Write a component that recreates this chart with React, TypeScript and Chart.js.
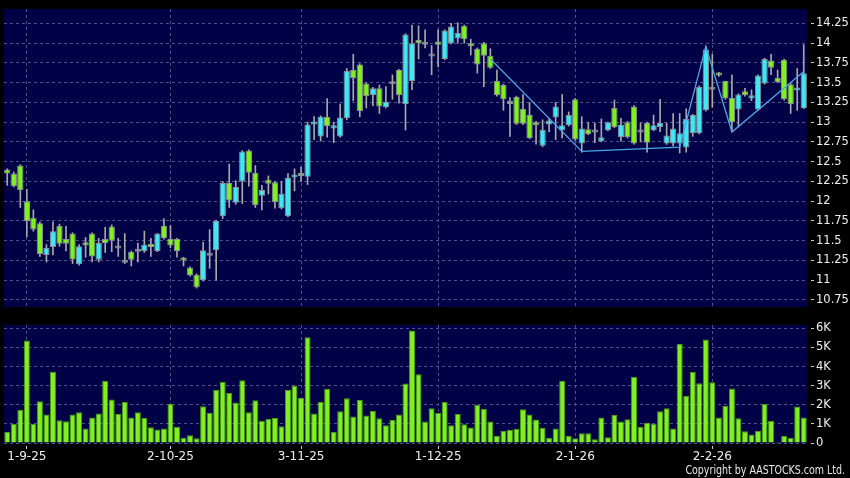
import React, { useEffect, useRef } from 'react';
import { Chart, registerables } from 'chart.js';

Chart.register(...registerables);

// ---- data ----
const opens = [
  12.40, 12.35, 12.45, 12.00, 11.79, 11.72, 11.32, 11.42, 11.69, 11.52,
  11.59, 11.20, 11.48, 11.59, 11.26, 11.52, 11.68, 11.40, 11.22, 11.36,
  11.36, 11.37, 11.45, 11.37, 11.69, 11.52, 11.52, 11.28, 11.16, 11.07,
  11.00, 11.31, 11.38, 11.81, 12.23, 11.98, 12.25, 12.64, 12.36, 12.07,
  12.27, 12.24, 11.91, 11.81, 12.30, 12.32, 12.31, 12.97, 12.82, 13.07,
  12.92, 12.82, 13.05, 13.66, 13.73, 13.49, 13.34, 13.43, 13.19, 13.48,
  13.66, 13.23, 13.52, 14.04, 13.98, 13.83, 14.02, 13.80, 14.00, 14.06,
  14.22, 14.00, 13.93, 14.00, 13.84, 13.52, 13.47, 13.23, 13.32, 13.17,
  13.09, 13.00, 12.70, 12.97, 13.06, 12.90, 12.96, 13.29, 12.73, 12.91,
  12.87, 12.76, 12.90, 13.18, 12.81, 13.00, 13.20, 12.87, 12.99, 12.90,
  12.94, 12.73, 12.73, 12.73, 12.68, 12.86, 12.86, 13.15, 13.41, 13.62,
  13.52, 13.31, 13.16, 13.39, 13.30, 13.16, 13.49, 13.78, 13.56, 13.79,
  13.48, 13.40, 13.18,
];
const highs = [
  12.41, 12.37, 12.46, 12.15, 11.89, 11.74, 11.45, 11.74, 11.71, 11.68,
  11.60, 11.45, 11.54, 11.60, 11.53, 11.67, 11.70, 11.53, 11.59, 11.37,
  11.47, 11.62, 11.53, 11.59, 11.78, 11.69, 11.53, 11.29, 11.17, 11.08,
  11.48, 11.64, 11.76, 12.25, 12.47, 12.26, 12.64, 12.65, 12.45, 12.20,
  12.32, 12.25, 12.25, 12.35, 12.41, 12.43, 13.00, 13.07, 13.08, 13.30,
  13.00, 13.23, 13.68, 13.86, 13.74, 13.50, 13.44, 13.47, 13.45, 13.60,
  13.67, 14.12, 14.23, 14.22, 14.17, 13.97, 14.17, 14.17, 14.25, 14.26,
  14.23, 14.05, 13.94, 14.01, 13.93, 13.66, 13.48, 13.31, 13.33, 13.35,
  13.25, 13.01, 13.03, 13.05, 13.25, 13.35, 13.13, 13.30, 13.07, 13.00,
  12.99, 13.04, 13.00, 13.28, 13.05, 13.01, 13.21, 12.99, 13.00, 13.09,
  13.29, 12.99, 13.11, 13.11, 13.17, 13.10, 13.46, 13.96, 13.86, 13.63,
  13.52, 13.60, 13.36, 13.43, 13.41, 13.60, 13.81, 13.86, 13.66, 13.80,
  13.49, 13.68, 13.98,
];
const lows = [
  12.20, 12.18, 11.92, 11.55, 11.62, 11.30, 11.23, 11.32, 11.43, 11.37,
  11.21, 11.19, 11.29, 11.23, 11.23, 11.35, 11.36, 11.30, 11.21, 11.18,
  11.23, 11.35, 11.30, 11.36, 11.52, 11.41, 11.29, 11.18, 11.05, 10.90,
  10.99, 11.15, 11.00, 11.78, 11.92, 11.96, 11.97, 12.19, 11.92, 11.89,
  12.09, 11.91, 11.90, 11.80, 12.13, 12.25, 12.21, 12.78, 12.76, 12.81,
  12.74, 12.81, 13.03, 13.27, 13.07, 13.18, 13.21, 13.11, 13.18, 13.29,
  13.24, 12.90, 13.41, 13.80, 13.94, 13.60, 13.70, 13.79, 13.99, 14.00,
  14.00, 13.85, 13.62, 13.45, 13.68, 13.33, 13.15, 12.82, 12.97, 12.97,
  12.79, 12.72, 12.69, 12.88, 12.78, 12.80, 12.95, 12.77, 12.62, 12.84,
  12.74, 12.75, 12.89, 12.93, 12.76, 12.80, 12.72, 12.75, 12.62, 12.89,
  12.88, 12.72, 12.70, 12.61, 12.62, 12.82, 12.85, 13.14, 13.19, 13.58,
  13.29, 12.88, 12.94, 13.33, 13.27, 13.15, 13.48, 13.60, 13.50, 13.28,
  13.11, 13.15, 13.17,
];
const closes = [
  12.35, 12.19, 12.14, 11.75, 11.64, 11.33, 11.41, 11.62, 11.46, 11.46,
  11.26, 11.43, 11.44, 11.30, 11.47, 11.47, 11.50, 11.40, 11.22, 11.26,
  11.36, 11.45, 11.42, 11.59, 11.53, 11.44, 11.37, 11.25, 11.06, 10.91,
  11.38, 11.31, 11.75, 12.23, 12.01, 12.18, 12.63, 12.36, 11.95, 12.14,
  12.22, 11.99, 12.09, 12.30, 12.31, 12.32, 12.97, 13.00, 13.07, 12.95,
  12.96, 13.06, 13.65, 13.56, 13.14, 13.33, 13.43, 13.20, 13.26, 13.48,
  13.34, 14.11, 14.00, 14.00, 13.98, 13.83, 13.98, 14.16, 14.21, 14.13,
  14.05, 13.96, 13.73, 13.84, 13.69, 13.34, 13.29, 13.23, 12.98, 12.98,
  12.80, 12.96, 12.90, 13.02, 13.20, 12.96, 13.09, 12.78, 12.92, 12.85,
  12.87, 12.81, 13.00, 12.94, 12.97, 12.81, 12.73, 12.87, 12.74, 12.96,
  12.99, 12.83, 12.92, 12.86, 13.04, 13.09, 13.45, 13.92, 13.41, 13.59,
  13.30, 13.00, 13.35, 13.34, 13.34, 13.59, 13.80, 13.69, 13.51, 13.29,
  13.23, 13.44, 13.62,
];
const volumes = [
  580, 1000, 1740, 5370, 1000, 2190, 1490, 3730, 1190, 1140,
  1490, 1610, 760, 1340, 1540, 3250, 2270, 1520, 2140, 1330,
  1610, 1310, 820, 710, 760, 2040, 850, 280, 410, 250,
  1920, 1570, 2790, 3200, 2620, 2120, 3280, 1610, 2240, 1160,
  1260, 1310, 870, 2790, 3010, 2350, 5540, 1540, 2140, 2840,
  580, 1660, 2340, 1390, 2250, 1440, 1690, 1290, 930, 1210,
  1490, 3110, 5890, 3600, 1120, 1820, 1570, 2140, 930, 1520,
  980, 810, 2000, 1790, 1120, 380, 630, 680, 750, 1770,
  1490, 1230, 800, 270, 760, 3260, 380, 250, 510, 510,
  200, 1330, 300, 1460, 1120, 1240, 3450, 840, 1060, 1010,
  1660, 1820, 760, 5200, 2470, 3710, 3130, 5420, 3180, 1330,
  1940, 2850, 1290, 610, 450, 630, 2050, 1160, 50, 360,
  280, 1910, 1330,
];
const zigzagIndex = [74, 88, 103, 107, 111, 122];
const zigzagValue = [13.80, 12.63, 12.685, 13.96, 12.875, 13.64];
const dateTickIndex = [3, 25, 45, 66, 87, 108];
const dateTickLabels = ['1-9-25', '2-10-25', '3-11-25', '1-12-25', '2-1-26', '2-2-26'];
const priceTicks = [10.75, 11, 11.25, 11.5, 11.75, 12, 12.25, 12.5, 12.75, 13, 13.25, 13.5, 13.75, 14, 14.25];
const volumeTicks = [0, 1000, 2000, 3000, 4000, 5000, 6000];
const volumeTickLabels = ['0', '1K', '2K', '3K', '4K', '5K', '6K'];

// ---- styles ----
const NAVY = '#000046';
const GRID = '#50508c';
const CYAN = '#40e6f2';
const GREEN = '#80f020';
const DOJI = '#9a9a9a';
const TEXT = '#eeeeee';
const FONT = 'DejaVu Sans';

const bgPlugin = {
  id: 'bg',
  beforeDraw(chart: any) {
    const { ctx, chartArea: a, width, height } = chart;
    ctx.save();
    ctx.fillStyle = '#000';
    ctx.fillRect(0, 0, width, height);
    ctx.fillStyle = NAVY;
    ctx.fillRect(a.left, a.top, a.right - a.left, a.bottom - a.top);
    ctx.restore();
  },
};

const vGridColor = (ctx: any) => (dateTickIndex.includes(ctx.index) ? GRID : 'rgba(0,0,0,0)');
const vTickColor = (ctx: any) => (dateTickIndex.includes(ctx.index) ? '#cccccc' : 'rgba(0,0,0,0)');

export default function App() {
  const priceRef = useRef<HTMLCanvasElement>(null);
  const volRef = useRef<HTMLCanvasElement>(null);

  useEffect(() => {
    const labels = opens.map((_, i) => String(i));
    const bodyData = opens.map((o, i) => [Math.min(o, closes[i]), Math.max(o, closes[i])]);
    const wickData = lows.map((l, i) => [l, highs[i]]);
    const bodyColors = opens.map((o, i) => (closes[i] > o ? CYAN : closes[i] < o ? GREEN : DOJI));
    const zigzag = labels.map((_, i) => {
      const k = zigzagIndex.indexOf(i);
      return k >= 0 ? zigzagValue[k] : null;
    });

    const common: any = {
      animation: false,
      responsive: false,
      events: [],
      plugins: { legend: { display: false }, tooltip: { enabled: false } },
    };

    const price = new Chart(priceRef.current as HTMLCanvasElement, {
      type: 'bar',
      data: {
        labels,
        datasets: [
          {
            type: 'line',
            data: zigzag,
            spanGaps: true,
            borderColor: '#4aa6e6',
            borderWidth: 1.3,
            pointRadius: 0,
            order: 0,
          } as any,
          {
            data: bodyData as any,
            backgroundColor: bodyColors,
            borderColor: '#8a9296',
            borderWidth: 1,
            borderSkipped: false,
            grouped: false,
            categoryPercentage: 1,
            barPercentage: 0.97,
            minBarLength: 3,
            order: 1,
          },
          {
            data: wickData as any,
            backgroundColor: '#a8a8a8',
            borderWidth: 0,
            barThickness: 1,
            grouped: false,
            order: 2,
          },
        ],
      },
      options: {
        ...common,
        layout: { padding: { left: 4, top: 5, right: 0, bottom: 3 } },
        scales: {
          x: {
            type: 'category',
            offset: true,
            grid: { color: vGridColor, drawTicks: false, offset: false },
            border: { display: false, dash: [3, 3] },
            ticks: { display: false, autoSkip: false },
            afterFit: (s: any) => { s.height = 0; },
          },
          y: {
            position: 'right',
            min: 10.659,
            max: 14.434,
            afterBuildTicks: (axis: any) => { axis.ticks = priceTicks.map((v) => ({ value: v })); },
            grid: { color: GRID, tickLength: 7, tickColor: '#cccccc', tickBorderDash: [0, 4, 3, 20] } as any,
            border: { display: false, dash: [3, 3] },
            ticks: {
              color: TEXT,
              font: { family: FONT, size: 11.5 },
              padding: 2,
              callback: (v: any) => String(v),
            },
            afterFit: (s: any) => { s.width = 43; },
          },
        },
      } as any,
      plugins: [bgPlugin],
    });

    const vol = new Chart(volRef.current as HTMLCanvasElement, {
      type: 'bar',
      data: {
        labels,
        datasets: [
          {
            data: volumes,
            backgroundColor: GREEN,
            borderColor: '#4c9a14',
            borderWidth: { left: 1, right: 1, top: 1, bottom: 0 },
            borderSkipped: 'start',
            categoryPercentage: 1,
            barPercentage: 0.92,
          },
        ],
      },
      options: {
        ...common,
        layout: { padding: { left: 4, top: 3, right: 0, bottom: 0 } },
        scales: {
          x: {
            type: 'category',
            offset: true,
            grid: { color: vGridColor, tickColor: vTickColor, tickLength: 6, tickBorderDash: [0, 3, 3, 20], offset: false } as any,
            border: { display: false, dash: [3, 3] },
            ticks: {
              autoSkip: false,
              maxRotation: 0,
              color: TEXT,
              font: { family: FONT, size: 12 },
              padding: 1,
              callback: (_v: any, i: number) => {
                const k = dateTickIndex.indexOf(i);
                return k >= 0 ? dateTickLabels[k] : '';
              },
            },
            afterFit: (s: any) => { s.height = 35; },
          },
          y: {
            position: 'right',
            min: 0,
            max: 6180,
            afterBuildTicks: (axis: any) => { axis.ticks = volumeTicks.map((v) => ({ value: v })); },
            grid: { color: GRID, tickLength: 7, tickColor: '#cccccc', tickBorderDash: [0, 4, 3, 20] } as any,
            border: { display: false, dash: [3, 3] },
            ticks: {
              color: TEXT,
              font: { family: FONT, size: 11.5 },
              padding: 2,
              callback: (v: any) => volumeTickLabels[volumeTicks.indexOf(Number(v))],
            },
            afterFit: (s: any) => { s.width = 43; },
          },
        },
      } as any,
      plugins: [bgPlugin],
    });

    return () => {
      price.destroy();
      vol.destroy();
    };
  }, []);

  return (
    <div style={{ position: 'fixed', left: 0, top: 0, width: 850, height: 478, background: '#000', overflow: 'hidden' }}>
      <canvas ref={priceRef} width={850} height={316} style={{ position: 'absolute', left: 0, top: 0 }} />
      <canvas ref={volRef} width={850} height={162} style={{ position: 'absolute', left: 0, top: 316 }} />
      <div
        style={{
          position: 'absolute',
          right: 5,
          top: 463,
          fontFamily: FONT,
          fontSize: 12,
          lineHeight: '14px',
          color: '#e6e6e6',
          whiteSpace: 'nowrap',
          transform: 'scaleX(0.79)',
          transformOrigin: 'right center',
        }}
      >
        Copyright by AASTOCKS.com Ltd.
      </div>
    </div>
  );
}
